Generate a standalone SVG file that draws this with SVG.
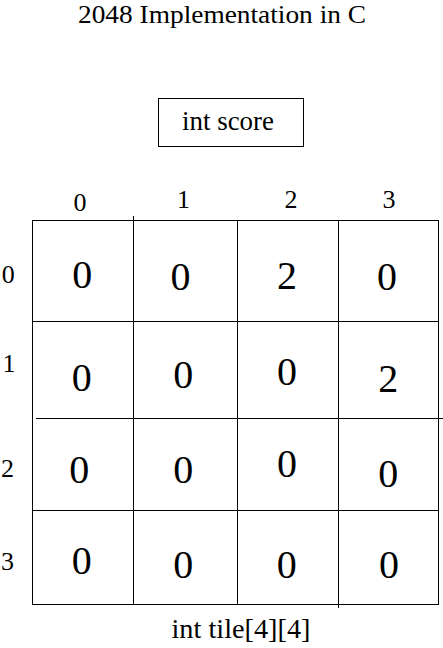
<svg xmlns="http://www.w3.org/2000/svg" width="443" height="648" viewBox="0 0 443 648" font-family="'Liberation Serif', 'DejaVu Serif', serif">
<style>
text{font-family:'Liberation Serif','DejaVu Serif',serif;fill:#000;text-anchor:middle}
.ln{stroke:#000;stroke-width:1;fill:none}
.idx{font-size:26px}
.val{font-size:40px}
</style>
<rect width="443" height="648" fill="#fff"/>
<g id="title"><text x="222" y="23" font-size="26" textLength="288" lengthAdjust="spacingAndGlyphs">2048 Implementation in C</text></g>
<g id="score">
<rect class="ln" x="158.5" y="98.5" width="145" height="48"/>
<text x="228" y="130" font-size="27" textLength="92" lengthAdjust="spacingAndGlyphs">int score</text>
</g>
<g id="grid" class="ln">
<rect x="32.5" y="220.5" width="406" height="384"/>
<line x1="133.5" y1="216" x2="133.5" y2="604.5"/>
<line x1="237.5" y1="220.5" x2="237.5" y2="604.5"/>
<line x1="338.5" y1="220.5" x2="338.5" y2="608"/>
<line x1="32.5" y1="321.5" x2="438.5" y2="321.5"/>
<line x1="36" y1="418.5" x2="443" y2="418.5"/>
<line x1="32.5" y1="510.5" x2="438.5" y2="510.5"/>
</g>
<g id="col-labels" class="idx">
<text x="80" y="211">0</text>
<text x="183.5" y="207.5">1</text>
<text x="291" y="207.5">2</text>
<text x="389" y="207.5">3</text>
</g>
<g id="row-labels" class="idx">
<text x="8.3" y="283">0</text>
<text x="9" y="371.5">1</text>
<text x="7.5" y="476.5">2</text>
<text x="7.5" y="570">3</text>
</g>
<g id="cells" class="val">
<text x="82.3" y="288">0</text>
<text x="180.5" y="290">0</text>
<text x="287" y="289">2</text>
<text x="387" y="290">0</text>
<text x="81.7" y="391">0</text>
<text x="183.3" y="388">0</text>
<text x="287" y="385">0</text>
<text x="388.3" y="391.5">2</text>
<text x="79.2" y="483">0</text>
<text x="183.3" y="483">0</text>
<text x="287" y="476.5">0</text>
<text x="388.3" y="486.5">0</text>
<text x="81.7" y="574">0</text>
<text x="183.3" y="577.5">0</text>
<text x="286.8" y="577.5">0</text>
<text x="389" y="577.5">0</text>
</g>
<g id="array-label"><text x="241" y="638" font-size="28" textLength="139" lengthAdjust="spacingAndGlyphs">int tile[4][4]</text></g>
</svg>
